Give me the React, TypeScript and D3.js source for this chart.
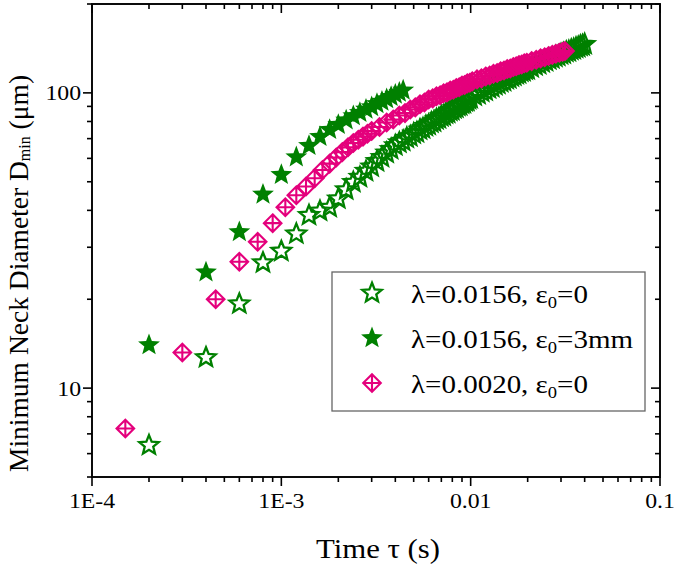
import React from 'react';
import * as d3 from 'd3';

// λ=0.0156, ε0=0 (open stars)
const tOpen = [
  2e-4, 4e-4, 6e-4, 8e-4, 1.0e-3, 1.2e-3, 1.4e-3, 1.6e-3, 1.8e-3, 2.0e-3,
  2.2e-3, 2.4e-3, 2.6e-3, 2.8e-3, 3.0e-3, 3.2e-3, 3.4e-3, 3.6e-3, 3.8e-3, 4.0e-3,
  4.2e-3, 4.4e-3, 4.6e-3, 4.8e-3, 5.0e-3, 5.2e-3, 5.4e-3, 5.6e-3, 5.8e-3, 6.0e-3,
  6.2e-3, 6.4e-3, 6.6e-3, 6.8e-3, 7.0e-3, 7.2e-3, 7.4e-3, 7.6e-3, 7.8e-3, 8.0e-3,
  8.2e-3, 8.4e-3, 8.6e-3, 8.8e-3, 9.0e-3, 9.2e-3, 9.4e-3, 9.6e-3, 9.8e-3, 1.0e-2,
  0.0105, 0.011, 0.0115, 0.012, 0.0125, 0.013, 0.0135, 0.014, 0.0145, 0.015,
  0.0155, 0.016, 0.0165, 0.017, 0.0175, 0.018, 0.0185, 0.019, 0.0195, 0.020,
  0.021, 0.022, 0.023, 0.024, 0.025, 0.026, 0.027, 0.028, 0.029, 0.030,
  0.031, 0.032, 0.033, 0.034, 0.035, 0.036, 0.037, 0.038, 0.039, 0.040,
];
const dOpen = [
  6.4, 12.7, 19.3, 26.6, 29.1, 33.3, 38.5, 39.8, 41.0, 43.8,
  47.0, 49.8, 51.8, 54.3, 56.2, 58.6, 60.5, 62.6, 64.4, 66.3,
  67.8, 68.7, 70.3, 71.1, 72.7, 73.4, 75.0, 75.7, 77.1, 77.8,
  79.2, 79.8, 81.2, 81.8, 83.1, 83.7, 85.0, 85.5, 86.8, 87.3,
  88.6, 89.0, 90.3, 90.7, 91.9, 92.3, 93.5, 93.9, 95.1, 95.8,
  97.8, 98.9, 100.7, 101.7, 103.5, 104.5, 106.2, 107.1, 108.7, 109.5,
  111.1, 111.9, 113.5, 114.2, 115.7, 116.4, 117.8, 118.4, 119.7, 120.1,
  121.8, 123.8, 124.9, 126.8, 127.9, 129.7, 130.7, 132.4, 133.3, 135.0,
  135.8, 137.4, 138.2, 139.8, 140.5, 142.0, 142.7, 144.2, 144.8, 146.0,
];

// λ=0.0156, ε0=3mm (filled stars)
const tFilled = [
  2e-4, 4e-4, 6e-4, 8e-4, 1.0e-3, 1.2e-3, 1.4e-3, 1.6e-3, 1.8e-3, 2.0e-3, 2.2e-3,
  2.4e-3, 2.6e-3, 2.8e-3, 3.0e-3, 3.2e-3, 3.4e-3, 3.6e-3, 3.8e-3, 4.0e-3, 4.2e-3, 4.4e-3,
];
const dFilled = [
  14.0, 24.7, 33.8, 45.3, 52.8, 60.6, 66.2, 71.0, 75.0, 78.0, 80.8,
  83.5, 85.6, 87.9, 89.6, 91.8, 93.5, 95.3, 97.0, 98.8, 100.3, 102.0,
];

// λ=0.0020, ε0=0 (diamonds)
const tPink = [
  1.5e-4, 3.0e-4, 4.5e-4, 6.0e-4, 7.5e-4, 9.0e-4, 1.05e-3, 1.2e-3, 1.35e-3, 1.5e-3,
  1.65e-3, 1.8e-3, 1.95e-3, 2.1e-3, 2.25e-3, 2.4e-3, 2.55e-3, 2.7e-3, 2.85e-3, 3.0e-3,
  3.3e-3, 3.6e-3, 3.9e-3, 4.2e-3, 4.5e-3, 4.8e-3, 5.1e-3, 5.4e-3, 5.7e-3, 6.0e-3,
  6.3e-3, 6.6e-3, 6.9e-3, 7.2e-3, 7.5e-3, 7.8e-3, 8.1e-3, 8.4e-3, 8.7e-3, 9.0e-3,
  9.3e-3, 9.6e-3, 9.9e-3, 1.02e-2,
  0.0108, 0.0114, 0.0120, 0.0126, 0.0132, 0.0138, 0.0144, 0.0150,
  0.0156, 0.0162, 0.0168, 0.0174, 0.0180, 0.0186, 0.0192, 0.0198,
  0.0210, 0.0222, 0.0234, 0.0246, 0.0258, 0.0270, 0.0282, 0.0294, 0.0306, 0.0315,
];
const dPink = [
  7.3, 13.2, 20.0, 26.8, 31.3, 36.2, 41.0, 45.0, 48.2, 51.4,
  54.8, 57.6, 60.4, 63.0, 65.4, 67.6, 69.4, 71.1, 72.7, 74.3,
  76.6, 79.4, 81.2, 83.8, 85.4, 87.8, 89.3, 91.5, 92.8, 94.9,
  95.8, 97.4, 98.1, 99.7, 100.4, 101.9, 102.5, 103.9, 104.5, 105.9,
  106.4, 107.7, 108.2, 109.4,
  111.1, 112.0, 113.7, 114.5, 116.1, 116.8, 118.3, 119.0,
  120.4, 121.0, 122.4, 123.0, 124.3, 124.8, 126.0, 126.5,
  128.1, 129.5, 130.9, 132.1, 133.3, 134.5, 135.6, 136.7, 137.8, 138.6,
];

const xTickValues = [1e-4, 1e-3, 1e-2, 1e-1];
const xTickLabels = ['1E-4', '1E-3', '0.01', '0.1'];
const yTickValues = [10, 100];
const yTickLabels = ['10', '100'];

const GREEN = '#008000';
const PINK = '#e4007c';
const FONT = '"Liberation Serif", "Times New Roman", serif';

function starPath(R: number, r: number) {
  const pts: [number, number][] = [];
  for (let i = 0; i < 10; i++) {
    const a = -Math.PI / 2 + (i * Math.PI) / 5;
    const rad = i % 2 === 0 ? R : r;
    pts.push([rad * Math.cos(a), rad * Math.sin(a)]);
  }
  return 'M' + pts.map((p) => p[0].toFixed(2) + ',' + p[1].toFixed(2)).join('L') + 'Z';
}

const OPEN_STAR = starPath(10.2, 4.5);
const FILLED_STAR = starPath(11.5, 4.9);
const D = 8.8;
const DIAMOND = `M0,${-D}L${D},0L0,${D}L${-D},0Z M0,${-D}L0,${D} M${-D},0L${D},0`;

function OpenStar({ cx, cy }: { cx: number; cy: number }) {
  return <path d={OPEN_STAR} transform={`translate(${cx},${cy})`} fill="none" stroke={GREEN} strokeWidth={2.3} strokeLinejoin="miter" />;
}
function FilledStar({ cx, cy }: { cx: number; cy: number }) {
  return <path d={FILLED_STAR} transform={`translate(${cx},${cy})`} fill={GREEN} stroke="none" />;
}
function Diamond({ cx, cy }: { cx: number; cy: number }) {
  return <path d={DIAMOND} transform={`translate(${cx},${cy})`} fill="none" stroke={PINK} strokeWidth={2.1} />;
}

export default function App() {
  const left = 92, right = 660, top = 4, bottom = 477;
  const x = d3.scaleLog().domain([1e-4, 0.1]).range([left, right]);
  const y = d3.scaleLog().domain([5, 200]).range([bottom, top]);

  const isMajor = (v: number) => Math.abs(Math.log10(v) - Math.round(Math.log10(v))) < 1e-9;
  const xTicks = x.ticks();
  const yTicks = y.ticks();
  const MAJ = 9, MIN = 5;

  const legendX = 332, legendY = 272, legendW = 313, legendH = 139;
  const legendRows = [
    { label: 'λ=0.0156, ε', tail: '=0', kind: 'open' },
    { label: 'λ=0.0156, ε', tail: '=3mm', kind: 'filled' },
    { label: 'λ=0.0020, ε', tail: '=0', kind: 'pink' },
  ];

  return (
    <svg width={675} height={570} style={{ position: 'absolute', left: 0, top: 0, background: '#fff' }}>
      <rect x={0} y={0} width={675} height={570} fill="#fff" />
      <g>
        {tOpen.map((t, i) => <OpenStar key={'o' + i} cx={x(t)} cy={y(dOpen[i])} />)}
        {tFilled.map((t, i) => <FilledStar key={'f' + i} cx={x(t)} cy={y(dFilled[i])} />)}
        {tPink.map((t, i) => <Diamond key={'p' + i} cx={x(t)} cy={y(dPink[i])} />)}
      </g>

      <rect x={left} y={top} width={right - left} height={bottom - top} fill="none" stroke="#000" strokeWidth={1.9} />

      {xTicks.map((v, i) => {
        const len = isMajor(v) ? MAJ : MIN;
        const px = x(v);
        return (
          <g key={'xt' + i}>
            <line x1={px} x2={px} y1={bottom} y2={bottom + len} stroke="#000" strokeWidth={1.6} />
            <line x1={px} x2={px} y1={top} y2={top + len} stroke="#000" strokeWidth={1.6} />
          </g>
        );
      })}
      {yTicks.map((v, i) => {
        const len = isMajor(v) ? MAJ : MIN;
        const py = y(v);
        return (
          <g key={'yt' + i}>
            <line x1={left - len} x2={left} y1={py} y2={py} stroke="#000" strokeWidth={1.6} />
            <line x1={right - len} x2={right} y1={py} y2={py} stroke="#000" strokeWidth={1.6} />
          </g>
        );
      })}

      {xTickValues.map((v, i) => (
        <text key={'xl' + i} transform={`translate(${x(v)},508) scale(1.08,1)`} textAnchor="middle" fontFamily={FONT} fontSize={22} fill="#000">
          {xTickLabels[i]}
        </text>
      ))}
      {yTickValues.map((v, i) => (
        <text key={'yl' + i} transform={`translate(81,${y(v) + 7.5}) scale(1.08,1)`} textAnchor="end" fontFamily={FONT} fontSize={22} fill="#000">
          {yTickLabels[i]}
        </text>
      ))}

      <text transform={`translate(${(left + right) / 2 + 2},558) scale(1.1,1)`} textAnchor="middle" fontFamily={FONT} fontSize={28} fill="#000">
        Time τ (s)
      </text>
      <text transform="translate(28,472) rotate(-90)" fontFamily={FONT} fontSize={27.5} fill="#000">
        Minimum Neck Diameter D
        <tspan fontSize={16} dy={2}>min</tspan>
        <tspan dy={-2}> (μm)</tspan>
      </text>

      <rect x={legendX} y={legendY} width={legendW} height={legendH} fill="#fff" stroke="#666" strokeWidth={1.3} />
      {legendRows.map((r, i) => {
        const cy = 293 + i * 45;
        const cx = 372;
        return (
          <g key={'lg' + i}>
            {r.kind === 'open' && <OpenStar cx={cx} cy={cy} />}
            {r.kind === 'filled' && <FilledStar cx={cx} cy={cy} />}
            {r.kind === 'pink' && <Diamond cx={cx} cy={cy} />}
            <text transform={`translate(411,${cy + 10}) scale(1.16,1)`} fontFamily={FONT} fontSize={25} fill="#000">
              {r.label}
              <tspan fontSize={16} dy={5}>0</tspan>
              <tspan dy={-5}>{r.tail}</tspan>
            </text>
          </g>
        );
      })}
    </svg>
  );
}
